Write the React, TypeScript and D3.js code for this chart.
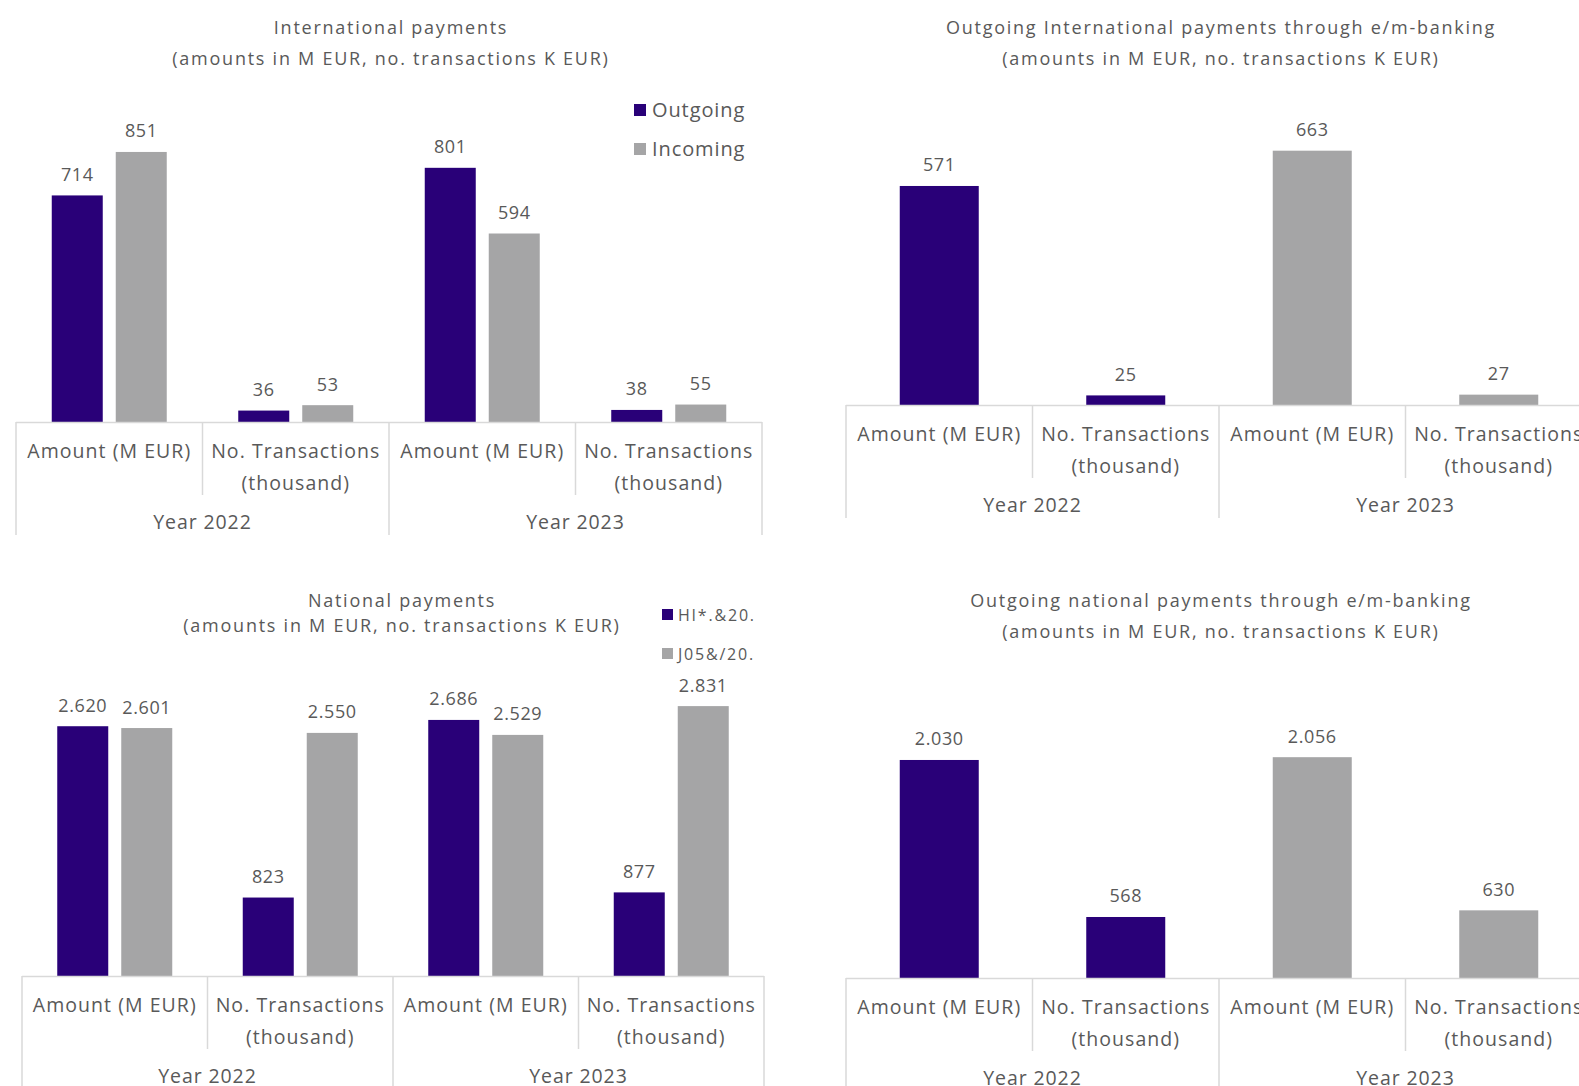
import React from "react";
import * as d3 from "d3";

// ---------- data ----------
const years = ["Year 2022", "Year 2023"];
const subCategories = ["Amount (M EUR)", "No. Transactions (thousand)"];
const subCategoryLines = [["Amount (M EUR)"], ["No. Transactions", "(thousand)"]];
const seriesNames = ["Outgoing", "Incoming"];
const nationalLegendLabels = ["HI*.&20.", "J05&/20."];

const intlOutgoing = [714, 36, 801, 38];
const intlIncoming = [851, 53, 594, 55];
const nationalOutgoing = [2620, 823, 2686, 877];
const nationalIncoming = [2601, 2550, 2529, 2831];
const ebankIntlValues = [571, 25, 663, 27];
const ebankNationalValues = [2030, 568, 2056, 630];
const ebankBarSeries = ["Outgoing", "Outgoing", "Incoming", "Incoming"];

// ---------- styles ----------
const W = 1579;
const H = 1086;
const NAVY = "#290078";
const GREY = "#a5a5a6";
const TEXT = "#595959";
const AXIS = "#d9d9d9";
const FONT = "'Open Sans', 'Noto Sans', sans-serif";
const colorOf = d3.scaleOrdinal<string, string>().domain(seriesNames).range([NAVY, GREY]);

const locale = d3.formatLocale({ decimal: ",", thousands: ".", grouping: [3], currency: ["", "€"] });
const fmt = locale.format(",d");

type PanelCfg = {
  x0: number;
  width: number;
  axisY: number;
  plotTop: number;
  yMax: number;
  title: string[];
  titleX: number;
  titleY: number[];
  grouped: boolean;
  series: { name: string; values: number[] }[];
  single?: { values: number[]; colors: string[] };
  legend?: { labels: string[]; x: number; y: number[]; size: number; font: number; ls: number; gap: number };
};

const panels: PanelCfg[] = [
  {
    x0: 16, width: 746, axisY: 422, plotTop: 136.4, yMax: 900,
    title: ["International payments", "(amounts in M EUR, no. transactions K EUR)"],
    titleX: 391, titleY: [34, 65], grouped: true,
    series: [
      { name: seriesNames[0], values: intlOutgoing },
      { name: seriesNames[1], values: intlIncoming },
    ],
    legend: { labels: seriesNames, x: 634, y: [104, 143], size: 12, font: 20, ls: 0.9, gap: 6 },
  },
  {
    x0: 846, width: 746, axisY: 405, plotTop: 136.5, yMax: 700,
    title: ["Outgoing International payments through e/m-banking", "(amounts in M EUR, no. transactions K EUR)"],
    titleX: 1221, titleY: [34, 65], grouped: false,
    series: [],
    single: { values: ebankIntlValues, colors: ebankBarSeries },
  },
  {
    x0: 22, width: 742, axisY: 976, plotTop: 690, yMax: 3000,
    title: ["National payments", "(amounts in M EUR, no. transactions K EUR)"],
    titleX: 402, titleY: [607, 632], grouped: true,
    series: [
      { name: seriesNames[0], values: nationalOutgoing },
      { name: seriesNames[1], values: nationalIncoming },
    ],
    legend: { labels: nationalLegendLabels, x: 662, y: [609, 648], size: 11, font: 16, ls: 1.8, gap: 5 },
  },
  {
    x0: 846, width: 746, axisY: 978, plotTop: 709.5, yMax: 2500,
    title: ["Outgoing national payments through e/m-banking", "(amounts in M EUR, no. transactions K EUR)"],
    titleX: 1221, titleY: [607, 638], grouped: false,
    series: [],
    single: { values: ebankNationalValues, colors: ebankBarSeries },
  },
];

function Panel({ p }: { p: PanelCfg }) {
  const cats = d3.cross(years, subCategories).map(([yr, s]) => `${yr}|${s}`);
  const x = d3.scaleBand<string>().domain(cats).range([p.x0, p.x0 + p.width]);
  const cw = x.bandwidth();
  const y = d3.scaleLinear().domain([0, p.yMax]).range([p.axisY, p.plotTop]);
  const groupW = 115;
  const inner = d3
    .scaleBand<string>()
    .domain(seriesNames)
    .range([(cw - groupW) / 2, (cw + groupW) / 2])
    .paddingInner(13 / 64);
  const singleW = 79;
  const yearX = d3.scaleBand<string>().domain(years).range([p.x0, p.x0 + p.width]);

  const bars: { x: number; w: number; v: number; color: string; key: string }[] = [];
  if (p.grouped) {
    p.series.forEach((s) => {
      s.values.forEach((v, i) => {
        bars.push({ x: (x(cats[i]) as number) + (inner(s.name) as number), w: inner.bandwidth(), v, color: colorOf(s.name), key: s.name + i });
      });
    });
  } else if (p.single) {
    p.single.values.forEach((v, i) => {
      bars.push({ x: (x(cats[i]) as number) + (cw - singleW) / 2, w: singleW, v, color: colorOf(p.single!.colors[i]), key: "b" + i });
    });
  }

  return (
    <g>
      {p.title.map((t, i) => (
        <text key={i} x={p.titleX} y={p.titleY[i]} textAnchor="middle" fontSize={18} letterSpacing={1.75} fill={TEXT} fontFamily={FONT}>
          {t}
        </text>
      ))}
      {bars.map((b) => (
        <g key={b.key}>
          <rect x={b.x} y={y(b.v)} width={b.w} height={p.axisY - y(b.v)} fill={b.color} />
          <text x={b.x + b.w / 2} y={y(b.v) - 14.5} textAnchor="middle" fontSize={18} letterSpacing={0.6} fill={TEXT} fontFamily={FONT}>
            {fmt(b.v)}
          </text>
        </g>
      ))}
      {/* multi-level category axis */}
      <line x1={p.x0} x2={p.x0 + p.width} y1={p.axisY + 0.5} y2={p.axisY + 0.5} stroke={AXIS} strokeWidth={1.5} />
      {d3.range(5).map((k) => {
        const xv = p.x0 + k * cw;
        const full = k % 2 === 0;
        return (
          <line key={k} x1={xv} x2={xv} y1={p.axisY} y2={p.axisY + (full ? 113 : 73)} stroke={AXIS} strokeWidth={1.5} />
        );
      })}
      {cats.map((c, i) => {
        const lines = subCategoryLines[i % 2];
        const cx = (x(c) as number) + cw / 2;
        return lines.map((ln, j) => (
          <text key={c + j} x={cx} y={p.axisY + 36 + j * 31.5} textAnchor="middle" fontSize={19.5} letterSpacing={1.05} fill={TEXT} fontFamily={FONT}>
            {ln}
          </text>
        ));
      })}
      {years.map((yr) => (
        <text key={yr} x={(yearX(yr) as number) + yearX.bandwidth() / 2} y={p.axisY + 107} textAnchor="middle" fontSize={19.5} letterSpacing={0.9} fill={TEXT} fontFamily={FONT}>
          {yr}
        </text>
      ))}
      {p.legend &&
        p.legend.labels.map((lb, i) => (
          <g key={lb}>
            <rect x={p.legend!.x} y={p.legend!.y[i]} width={p.legend!.size} height={p.legend!.size} fill={colorOf(seriesNames[i])} />
            <text
              x={p.legend!.x + p.legend!.size + p.legend!.gap}
              y={p.legend!.y[i] + p.legend!.size + 0.5}
              fontSize={p.legend!.font}
              letterSpacing={p.legend!.ls}
              fill={TEXT}
              fontFamily={FONT}
            >
              {lb}
            </text>
          </g>
        ))}
    </g>
  );
}

export default function App() {
  return (
    <svg
      width={W}
      height={H}
      viewBox={`0 0 ${W} ${H}`}
      style={{ position: "absolute", left: 0, top: 0, background: "#fff", overflow: "hidden" }}
    >
      <rect x={0} y={0} width={W} height={H} fill="#fff" />
      {panels.map((p, i) => (
        <Panel key={i} p={p} />
      ))}
    </svg>
  );
}
